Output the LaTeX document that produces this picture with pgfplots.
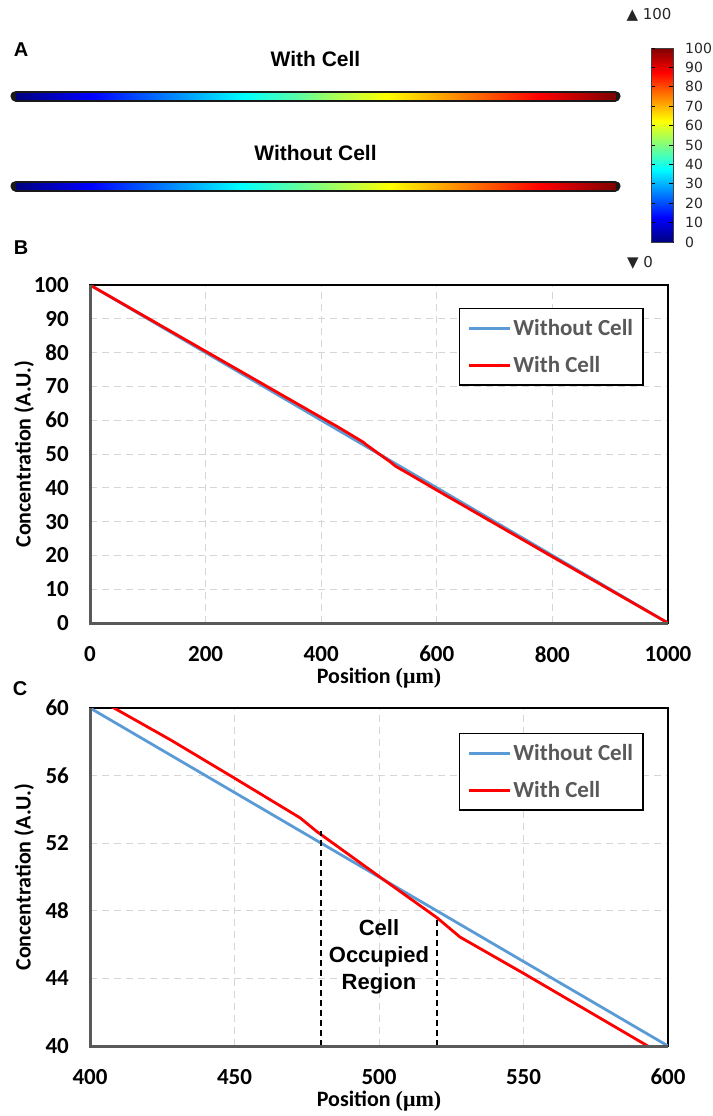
\documentclass[border=0pt]{standalone}
\usepackage{fontspec}
\setmainfont{Carlito}
\newfontfamily\arialfont{Liberation Sans}
\newfontfamily\seriffont{Liberation Serif}
\newfontfamily\dejavu{DejaVu Sans}
\usepackage{pgfplots}
\usepackage{pgfplotstable}
\pgfplotsset{compat=1.18}

\definecolor{blueline}{HTML}{5B9BD5}
\definecolor{redline}{HTML}{FF0000}
\definecolor{gridgray}{HTML}{D6D6D6}
\definecolor{axgray}{HTML}{595959}

% concentration profiles, position in um
\pgfplotstableread{
pos conc
0 100
1000 0
}\withoutcell
\pgfplotstableread{
pos conc
0 100
200 80.4
400 60.8
428 58.1
449.5 55.9
472.7 53.5
478.4 52.7
500.3 50.0
520 47.6
528 46.45
550 44.3
579 41.4
593 40.0
600 39.3
800 19.6
1000 0
}\withcell

\pgfplotsset{
  conc/.style={
    scale only axis, width=578pt, height=338pt,
    clip mode=individual,
    grid=major,
    grid style={gridgray, line width=1pt, dash pattern=on 7pt off 5pt},
    axis line style={black, line width=1.5pt},
    major tick length=0pt, tick style={draw=none},
    /pgf/number format/assume math mode=true,
    /pgf/number format/1000 sep={},
    tick label style={font=\fontsize{23}{23}\selectfont\bfseries, inner sep=0pt},
    yticklabel style={anchor=east, xshift=-21pt},
    xticklabel style={anchor=north, yshift=-23pt},
    label style={font=\fontsize{22}{22}\selectfont\bfseries},
    ylabel={Concentration (A.U.)},
    xlabel={Position {\seriffont\bfseries(μm)}},
    ylabel style={at={(axis description cs:-0.114,0.5)}, anchor=center},
    xlabel style={at={(axis description cs:0.5,-0.162)}, anchor=center},
    legend style={anchor=north east, draw=black, line width=1.4pt,
      font=\fontsize{23}{23}\selectfont\bfseries, text=axgray,
      inner xsep=8pt, inner ysep=9pt, row sep=15pt,
      cells={anchor=west}},
    legend image code/.code={\draw[##1] (0pt,0pt) -- (41pt,0pt);},
  },
  tube/.style={
    scale only axis, width=599pt, height=90pt,
    xmin=0, xmax=1000, ymin=0, ymax=1,
    hide axis, clip=false, view={0}{90},
    colormap/jet, point meta min=0, point meta max=100,
  },
}

\begin{document}
\begin{tikzpicture}
\useasboundingbox (0pt,0pt) rectangle (712pt,-1116pt);

% ---------- panel A ----------
\node[font=\arialfont\bfseries\fontsize{20}{20}\selectfont] at (21pt,-50pt) {A};
\node[font=\arialfont\bfseries\fontsize{21}{21}\selectfont] at (315.5pt,-59pt) {With Cell};
\node[font=\arialfont\bfseries\fontsize{21}{21}\selectfont] at (315.5pt,-153pt) {Without Cell};

\begin{axis}[tube, at={(16pt,-186pt)}, anchor=south west]
\addplot[black!90, line width=11pt, line cap=round] coordinates {(0,1) (1000,1)};
\addplot[black!90, line width=11pt, line cap=round] coordinates {(0,0) (1000,0)};
% with cell (tube runs from low to high concentration)
\addplot3[surf, shader=interp, mesh/cols=6] table {
0 0.965 0
472 0.965 46.5
480 0.965 47.5
520 0.965 52.6
528 0.965 53.5
1000 0.965 100
0 1.035 0
472 1.035 46.5
480 1.035 47.5
520 1.035 52.6
528 1.035 53.5
1000 1.035 100
};
% without cell
\addplot3[surf, shader=interp, mesh/cols=2] table {
0 -0.035 0
1000 -0.035 100
0 0.035 0
1000 0.035 100
};
\end{axis}

% colour bar
\begin{axis}[at={(651pt,-242pt)}, anchor=south west, scale only axis,
  width=22pt, height=194pt, xmin=0, xmax=1, ymin=0, ymax=100,
  view={0}{90}, colormap/jet, point meta min=0, point meta max=100,
  xtick=\empty, ytick={0,10,...,100},
  ytick pos=both, yticklabel pos=right,
  tick align=inside, major tick length=4pt,
  tick style={black, line width=0.9pt},
  axis line style={black!75, line width=0.6pt},
  /pgf/number format/assume math mode=true,
  yticklabel style={font=\dejavu\fontsize{14}{14}\selectfont, text=black!85,
    anchor=west, inner sep=0pt, xshift=12pt}]
\addplot3[surf, shader=interp, mesh/cols=2] table {
0 0 0
1 0 0
0 100 100
1 100 100
};
\end{axis}
\node[font=\dejavu\fontsize{15}{15}\selectfont, text=black!85] at (649pt,-15pt) {▲ 100};
\node[font=\dejavu\fontsize{15}{15}\selectfont, text=black!85] at (640pt,-263pt) {▼ 0};

% ---------- panel B ----------
\node[font=\arialfont\bfseries\fontsize{20}{20}\selectfont] at (21pt,-248pt) {B};
\begin{axis}[conc, at={(90pt,-623pt)}, anchor=south west,
  xmin=0, xmax=1000, ymin=0, ymax=100,
  xtick={0,200,...,1000}, ytick={0,10,...,100},
  legend style={at={(0.958,0.932)}}]
\addplot[blueline, line width=2.8pt] table[x=pos, y=conc] {\withoutcell};
\addlegendentry{Without Cell}
\addplot[redline, line width=2.8pt] table[x=pos, y=conc] {\withcell};
\addlegendentry{With Cell}
\draw[axgray, line width=3pt] (rel axis cs:0,1) -- (rel axis cs:0,0) -- (rel axis cs:1,0);
\end{axis}

% ---------- panel C ----------
\node[font=\arialfont\bfseries\fontsize{20}{20}\selectfont] at (20pt,-689pt) {C};
\begin{axis}[conc, at={(90pt,-1046pt)}, anchor=south west,
  xmin=400, xmax=600, ymin=40, ymax=60,
  xtick={400,450,...,600}, ytick={40,44,...,60},
  legend style={at={(0.958,0.926)}}]
\addplot[blueline, line width=2.8pt] table[x=pos, y=conc] {\withoutcell};
\addlegendentry{Without Cell}
\addplot[redline, line width=2.8pt] table[x=pos, y=conc] {\withcell};
\addlegendentry{With Cell}
\addplot[black, line width=1.5pt, dash pattern=on 6pt off 4pt, forget plot] coordinates {(480,40) (480,52.7)};
\addplot[black, line width=1.5pt, dash pattern=on 6pt off 4pt, forget plot] coordinates {(520,40) (520,47.6)};
\node[align=center, font=\arialfont\bfseries\fontsize{22}{27}\selectfont] at (axis cs:500,45.3) {Cell\\Occupied\\Region};
\draw[axgray, line width=3pt] (rel axis cs:0,1) -- (rel axis cs:0,0) -- (rel axis cs:1,0);
\end{axis}
\end{tikzpicture}
\end{document}
